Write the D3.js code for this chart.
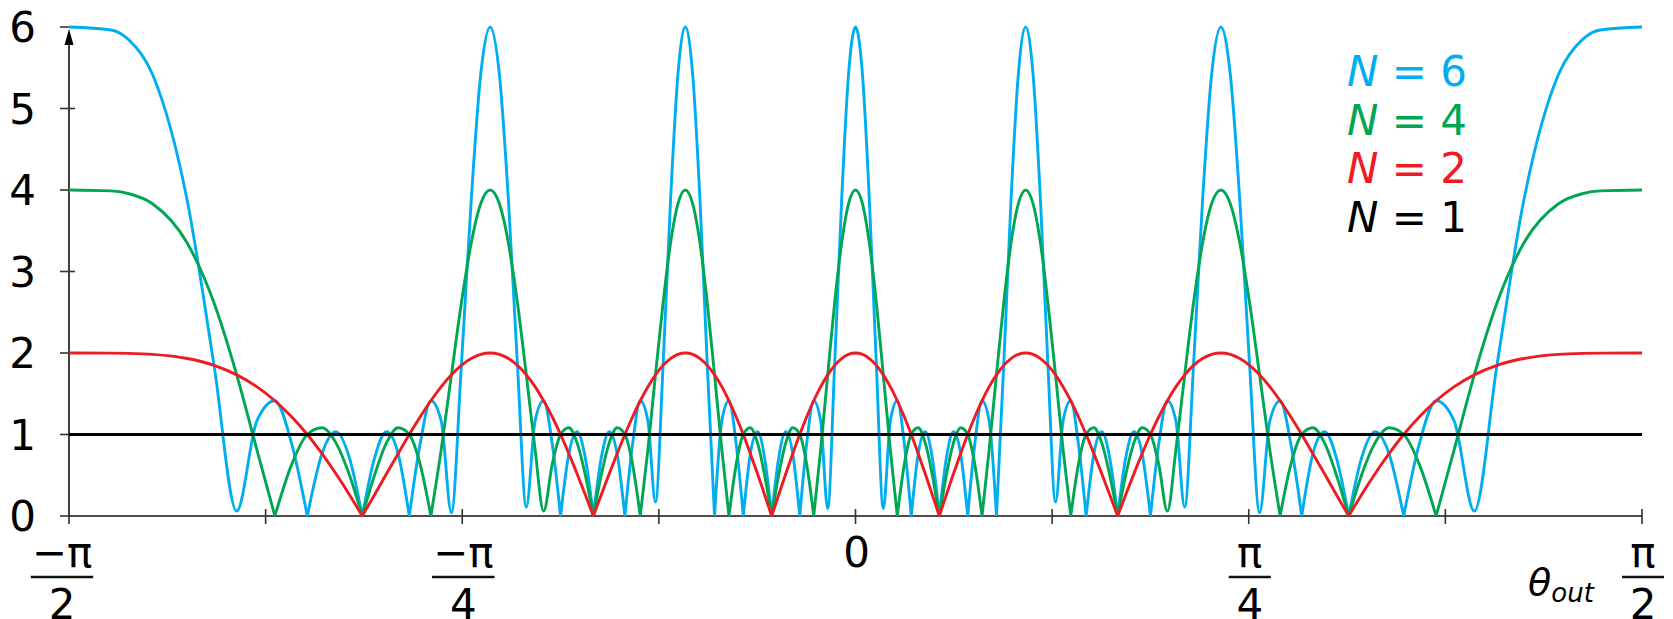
<!DOCTYPE html>
<html lang="en">
  <head>
    <meta charset="UTF-8" />
    <title>Array factor</title>
    <script src="https://d3js.org/d3.v7.min.js"></script>
    <style>
      body { margin: 0; background: #fff; }
      text { font-family: "DejaVu Sans", Verdana, sans-serif; }
    </style>
  </head>
  <body>
    <div id="chart"></div>
    <script>
      // output angle in degrees (shared by the N = 6, 4, 2 curves)
      const theta = [
        -90, -85.22, -83.24, -80.44, -76.46, -73.40, -70.81, -68.52, -66.44, -64.53,
        -62.73, -61.05, -59.45, -57.91, -56.44, -55.03, -53.67, -52.34, -51.06, -49.81,
        -48.59, -47.40, -46.24, -45.10, -43.98, -42.89, -41.81, -40.75, -39.71, -38.68,
        -37.67, -36.67, -35.69, -34.71, -33.75, -32.80, -31.86, -30.92, -30, -29.09,
        -28.18, -27.28, -26.39, -25.50, -24.63, -23.75, -22.89, -22.02, -21.17, -20.32,
        -19.47, -18.63, -17.79, -16.96, -16.13, -15.30, -14.48, -13.66, -12.84, -12.03,
        -11.21, -10.40, -9.59, -8.79, -7.98, -7.18, -6.38, -5.58, -4.78, -3.98,
        -3.18, -2.39, -1.59, -0.80,
        0,
        0.80, 1.59, 2.39, 3.18, 3.98, 4.78, 5.58, 6.38, 7.18, 7.98,
        8.79, 9.59, 10.40, 11.21, 12.03, 12.84, 13.66, 14.48, 15.30, 16.13,
        16.96, 17.79, 18.63, 19.47, 20.32, 21.17, 22.02, 22.89, 23.75, 24.63,
        25.50, 26.39, 27.28, 28.18, 29.09, 30, 30.92, 31.86, 32.80, 33.75,
        34.71, 35.69, 36.67, 37.67, 38.68, 39.71, 40.75, 41.81, 42.89, 43.98,
        45.10, 46.24, 47.40, 48.59, 49.81, 51.06, 52.34, 53.67, 55.03, 56.44,
        57.91, 59.45, 61.05, 62.73, 64.53, 66.44, 68.52, 70.81, 73.40, 76.46,
        80.44, 83.24, 85.22, 90
      ];

      const n6 = [
        6, 5.963, 5.851, 5.417, 3.864, 1.848, 0.06, 1.162, 1.414, 0.891,
        0, 0.765, 1.035, 0.713, 0, 0.713, 1.035, 0.765, 0, 0.891,
        1.414, 1.162, 0.04, 1.848, 3.864, 5.417, 6, 5.417, 3.864, 1.848,
        0.11, 1.162, 1.414, 0.891, 0, 0.765, 1.035, 0.713, 0, 0.713,
        1.035, 0.765, 0, 0.891, 1.414, 1.162, 0.17, 1.848, 3.864, 5.417,
        6, 5.417, 3.864, 1.848, 0, 1.162, 1.414, 0.891, 0, 0.765,
        1.035, 0.713, 0, 0.713, 1.035, 0.765, 0, 0.891, 1.414, 1.162,
        0.09, 1.848, 3.864, 5.417,
        6,
        5.417, 3.864, 1.848, 0.09, 1.162, 1.414, 0.891, 0, 0.765, 1.035,
        0.713, 0, 0.713, 1.035, 0.765, 0, 0.891, 1.414, 1.162, 0,
        1.848, 3.864, 5.417, 6, 5.417, 3.864, 1.848, 0.17, 1.162, 1.414,
        0.891, 0, 0.765, 1.035, 0.713, 0, 0.713, 1.035, 0.765, 0,
        0.891, 1.414, 1.162, 0.11, 1.848, 3.864, 5.417, 6, 5.417, 3.864,
        1.848, 0.04, 1.162, 1.414, 0.891, 0, 0.765, 1.035, 0.713, 0,
        0.713, 1.035, 0.765, 0, 0.891, 1.414, 1.162, 0.06, 1.848, 3.864,
        5.417, 5.851, 5.963, 6
      ];

      const n4 = [
        4, 3.989, 3.957, 3.831, 3.346, 2.613, 1.732, 0.821, 0, 0.630,
        1.0, 1.082, 0.897, 0.504, 0, 0.504, 0.897, 1.082, 1.0, 0.630,
        0, 0.821, 1.732, 2.613, 3.346, 3.831, 4, 3.831, 3.346, 2.613,
        1.732, 0.821, 0.06, 0.630, 1.0, 1.082, 0.897, 0.504, 0, 0.504,
        0.897, 1.082, 1.0, 0.630, 0, 0.821, 1.732, 2.613, 3.346, 3.831,
        4, 3.831, 3.346, 2.613, 1.732, 0.821, 0, 0.630, 1.0, 1.082,
        0.897, 0.504, 0, 0.504, 0.897, 1.082, 1.0, 0.630, 0, 0.821,
        1.732, 2.613, 3.346, 3.831,
        4,
        3.831, 3.346, 2.613, 1.732, 0.821, 0, 0.630, 1.0, 1.082, 0.897,
        0.504, 0, 0.504, 0.897, 1.082, 1.0, 0.630, 0, 0.821, 1.732,
        2.613, 3.346, 3.831, 4, 3.831, 3.346, 2.613, 1.732, 0.821, 0,
        0.630, 1.0, 1.082, 0.897, 0.504, 0, 0.504, 0.897, 1.082, 1.0,
        0.630, 0.06, 0.821, 1.732, 2.613, 3.346, 3.831, 4, 3.831, 3.346,
        2.613, 1.732, 0.821, 0, 0.630, 1.0, 1.082, 0.897, 0.504, 0,
        0.504, 0.897, 1.082, 1.0, 0.630, 0, 0.821, 1.732, 2.613, 3.346,
        3.831, 3.957, 3.989, 4
      ];

      const n2 = [
        2, 1.999, 1.996, 1.983, 1.932, 1.848, 1.732, 1.587, 1.414, 1.218,
        1.0, 0.765, 0.518, 0.261, 0, 0.261, 0.518, 0.765, 1.0, 1.218,
        1.414, 1.587, 1.732, 1.848, 1.932, 1.983, 2, 1.983, 1.932, 1.848,
        1.732, 1.587, 1.414, 1.218, 1.0, 0.765, 0.518, 0.261, 0, 0.261,
        0.518, 0.765, 1.0, 1.218, 1.414, 1.587, 1.732, 1.848, 1.932, 1.983,
        2, 1.983, 1.932, 1.848, 1.732, 1.587, 1.414, 1.218, 1.0, 0.765,
        0.518, 0.261, 0, 0.261, 0.518, 0.765, 1.0, 1.218, 1.414, 1.587,
        1.732, 1.848, 1.932, 1.983,
        2,
        1.983, 1.932, 1.848, 1.732, 1.587, 1.414, 1.218, 1.0, 0.765, 0.518,
        0.261, 0, 0.261, 0.518, 0.765, 1.0, 1.218, 1.414, 1.587, 1.732,
        1.848, 1.932, 1.983, 2, 1.983, 1.932, 1.848, 1.732, 1.587, 1.414,
        1.218, 1.0, 0.765, 0.518, 0.261, 0, 0.261, 0.518, 0.765, 1.0,
        1.218, 1.414, 1.587, 1.732, 1.848, 1.932, 1.983, 2, 1.983, 1.932,
        1.848, 1.732, 1.587, 1.414, 1.218, 1.0, 0.765, 0.518, 0.261, 0,
        0.261, 0.518, 0.765, 1.0, 1.218, 1.414, 1.587, 1.732, 1.848, 1.932,
        1.983, 1.996, 1.999, 2
      ];

      const n1Theta = [-90, 90];
      const n1 = [1, 1];

      const yTicks = [0, 1, 2, 3, 4, 5, 6];
      const xTicks = [-90, -67.5, -45, -22.5, 0, 22.5, 45, 67.5, 90];
      const xLabelAt = [-90, -45, 0, 45, 90];
      const xLabelTop = ["−π", "−π", "0", "π", "π"];
      const xLabelBottom = ["2", "4", "", "4", "2"];

      const legendN = ["6", "4", "2", "1"];
      const legendColors = ["#00aeef", "#00a651", "#ed1c24", "#000000"];

      const width = 1673;
      const height = 619;

      const svg = d3
        .select("#chart")
        .append("svg")
        .attr("width", width)
        .attr("height", height);

      const x = d3.scaleLinear().domain([-90, 90]).range([69, 1642]);
      const y = d3.scaleLinear().domain([0, 6]).range([516, 27]);

      // axes
      svg
        .append("line")
        .attr("x1", x(-90))
        .attr("x2", x(90))
        .attr("y1", y(0))
        .attr("y2", y(0))
        .attr("stroke", "#111")
        .attr("stroke-width", 1.6);

      svg
        .append("line")
        .attr("x1", x(-90))
        .attr("x2", x(-90))
        .attr("y1", y(0))
        .attr("y2", y(6) + 12)
        .attr("stroke", "#111")
        .attr("stroke-width", 1.6);

      // arrow head on the y axis
      const ax = x(-90);
      const ay = y(6) + 2;
      svg
        .append("path")
        .attr("d", `M${ax},${ay} L${ax - 4.5},${ay + 16} L${ax + 4.5},${ay + 16} Z`)
        .attr("fill", "#000");

      svg
        .selectAll(".ytick")
        .data(yTicks)
        .enter()
        .append("line")
        .attr("class", "ytick")
        .attr("x1", x(-90) - 9)
        .attr("x2", (d) => (d === 0 ? x(-90) : x(-90) + 6))
        .attr("y1", (d) => y(d))
        .attr("y2", (d) => y(d))
        .attr("stroke", "#333")
        .attr("stroke-width", 1.6);

      svg
        .selectAll(".ylabel")
        .data(yTicks)
        .enter()
        .append("text")
        .attr("class", "ylabel")
        .attr("x", 36)
        .attr("y", (d) => y(d) + 15)
        .attr("text-anchor", "end")
        .attr("font-size", 42)
        .text((d) => d);

      svg
        .selectAll(".xtick")
        .data(xTicks)
        .enter()
        .append("line")
        .attr("class", "xtick")
        .attr("x1", (d) => x(d))
        .attr("x2", (d) => x(d))
        .attr("y1", (d) => (d === -90 ? y(0) : y(0) - 7))
        .attr("y2", y(0) + 8)
        .attr("stroke", "#333")
        .attr("stroke-width", 1.6);

      // tick labels as fractions
      xLabelAt.forEach((t, i) => {
        const cx = x(t) + (i === 0 ? -7 : 1);
        const top = svg
          .append("text")
          .attr("x", cx)
          .attr("y", 567)
          .attr("text-anchor", "middle")
          .attr("font-size", 42)
          .text(xLabelTop[i]);
        if (xLabelBottom[i] !== "") {
          const w = Math.max(top.node().getComputedTextLength() + 2, 42);
          svg
            .append("line")
            .attr("x1", cx - w / 2)
            .attr("x2", cx + w / 2)
            .attr("y1", 577)
            .attr("y2", 577)
            .attr("stroke", "#111")
            .attr("stroke-width", 2.6);
          svg
            .append("text")
            .attr("x", cx)
            .attr("y", 619)
            .attr("text-anchor", "middle")
            .attr("font-size", 42)
            .text(xLabelBottom[i]);
        }
      });

      const axisTitle = svg
        .append("text")
        .attr("x", 1528)
        .attr("y", 595)
        .attr("font-size", 38)
        .attr("font-style", "italic");
      axisTitle.append("tspan").text("θ");
      axisTitle
        .append("tspan")
        .attr("font-size", 26)
        .attr("dy", 7)
        .text("out");

      // curves, split at the true zeros so the dips stay sharp
      const line = d3
        .line()
        .x((d) => x(d[0]))
        .y((d) => y(d[1]))
        .curve(d3.curveMonotoneX);

      function lobePath(xs, ys) {
        const segs = [];
        let cur = [];
        xs.forEach((t, i) => {
          cur.push([t, ys[i]]);
          if (ys[i] === 0 && cur.length > 1) {
            segs.push(cur);
            cur = [[t, ys[i]]];
          }
        });
        if (cur.length > 1) segs.push(cur);
        return segs.map((s) => line(s)).join("");
      }

      const series = [
        { xs: theta, ys: n6, color: legendColors[0] },
        { xs: theta, ys: n4, color: legendColors[1] },
        { xs: theta, ys: n2, color: legendColors[2] },
        { xs: n1Theta, ys: n1, color: legendColors[3] },
      ];

      svg
        .selectAll(".curve")
        .data(series)
        .enter()
        .append("path")
        .attr("class", "curve")
        .attr("d", (d) => lobePath(d.xs, d.ys))
        .attr("fill", "none")
        .attr("stroke", (d) => d.color)
        .attr("stroke-width", 2.9)
        .attr("stroke-linejoin", "round");

      // legend
      const legend = svg
        .selectAll(".legend")
        .data(legendN)
        .enter()
        .append("text")
        .attr("class", "legend")
        .attr("x", 1347)
        .attr("y", (d, i) => 86 + i * 48.5)
        .attr("font-size", 42)
        .attr("fill", (d, i) => legendColors[i]);
      legend.append("tspan").attr("font-style", "italic").text("N");
      legend.append("tspan").text((d) => " = " + d);
    </script>
  </body>
</html>
